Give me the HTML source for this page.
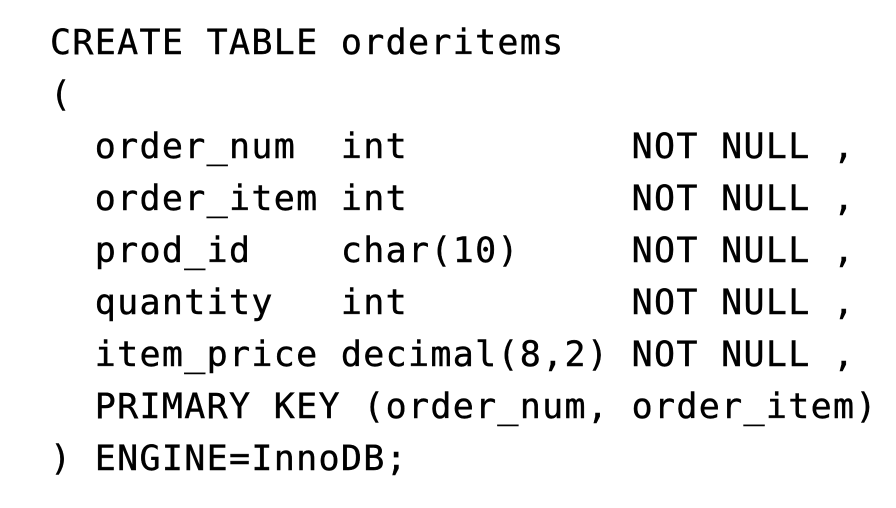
<!DOCTYPE html>
<html><head><meta charset="utf-8"><style>
html,body{margin:0;padding:0;background:#fff;width:896px;height:508px;overflow:hidden}
pre{position:absolute;left:50px;top:17px;margin:0;font-family:"DejaVu Sans Mono","Liberation Mono",monospace;font-size:35px;line-height:52px;letter-spacing:1.3px;color:#000;-webkit-text-stroke:0.4px #000}
</style></head><body>
<pre>CREATE TABLE orderitems
(
  order_num  int          NOT NULL ,
  order_item int          NOT NULL ,
  prod_id    char(10)     NOT NULL ,
  quantity   int          NOT NULL ,
  item_price decimal(8,2) NOT NULL ,
  PRIMARY KEY (order_num, order_item)
) ENGINE=InnoDB;</pre>
</body></html>
